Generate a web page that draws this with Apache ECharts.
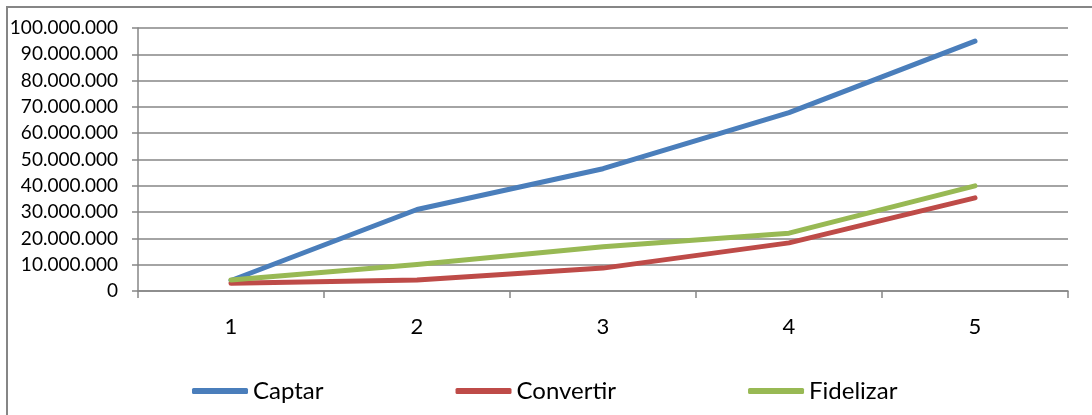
<!DOCTYPE html>
<html>
<head>
<meta charset="utf-8">
<script src="https://cdn.jsdelivr.net/npm/echarts@6/dist/echarts.min.js"></script>
<style>
  html, body { margin: 0; padding: 0; background: #fff; }
  #chart { width: 1092px; height: 415px; }
</style>
</head>
<body>
<div id="chart"></div>
<script>
// Periods 1..5 and the three funnel stages
const periods = ['1', '2', '3', '4', '5'];
const captar = [4000000, 31000000, 46500000, 67800000, 95000000];
const convertir = [2900000, 4200000, 8700000, 18300000, 35400000];
const fidelizar = [4200000, 10100000, 16800000, 22000000, 40000000];
const seriesNames = ['Captar', 'Convertir', 'Fidelizar'];
const seriesColors = ['#4A7EBB', '#BE4B48', '#98B954'];

const gridColor = '#868686';
const fontFamily = 'Lato, "Noto Sans", sans-serif';

// 100000000 -> "100.000.000"
function dotThousands(v) {
  return String(Math.round(v)).replace(/\B(?=(\d{3})+(?!\d))/g, '.');
}

const chart = echarts.init(document.getElementById('chart'), null, { renderer: 'canvas' });

function lineSeries(name, data, color) {
  return {
    name: name,
    type: 'line',
    data: data,
    symbol: 'none',
    smooth: false,
    lineStyle: { color: color, width: 5, cap: 'round', join: 'round' },
    itemStyle: { color: color },
    emphasis: { disabled: true }
  };
}

chart.setOption({
  animation: false,
  backgroundColor: '#fff',
  graphic: [{
    type: 'rect',
    shape: { x: 7, y: 7, width: 1100, height: 430 },
    style: { fill: 'none', stroke: gridColor, lineWidth: 2 },
    silent: true,
    z: -1
  }],
  grid: { left: 138, right: 24, top: 28, bottom: 124, containLabel: false },
  legend: {
    left: 192,
    top: 379,
    padding: 0,
    itemWidth: 56,
    itemHeight: 6,
    itemGap: 132,
    icon: 'roundRect',
    textStyle: { fontFamily: fontFamily, fontSize: 24, color: '#000' },
    data: seriesNames
  },
  xAxis: {
    type: 'category',
    data: periods,
    boundaryGap: true,
    axisLine: { show: true, lineStyle: { color: gridColor, width: 1.5 } },
    axisTick: { show: true, length: 7, inside: false, alignWithLabel: false, lineStyle: { color: gridColor, width: 1.5 } },
    axisLabel: { margin: 25, fontFamily: fontFamily, fontSize: 22, color: '#000' },
    splitLine: { show: false }
  },
  yAxis: {
    type: 'value',
    min: 0,
    max: 100000000,
    interval: 10000000,
    axisLine: { show: true, lineStyle: { color: gridColor, width: 1.5 } },
    axisTick: { show: true, length: 6, lineStyle: { color: gridColor, width: 1.5 } },
    axisLabel: { margin: 20, fontFamily: fontFamily, fontSize: 19, color: '#000', formatter: dotThousands },
    splitLine: { show: true, lineStyle: { color: gridColor, width: 1.5 } }
  },
  series: [
    lineSeries(seriesNames[0], captar, seriesColors[0]),
    lineSeries(seriesNames[1], convertir, seriesColors[1]),
    lineSeries(seriesNames[2], fidelizar, seriesColors[2])
  ]
});
</script>
</body>
</html>
